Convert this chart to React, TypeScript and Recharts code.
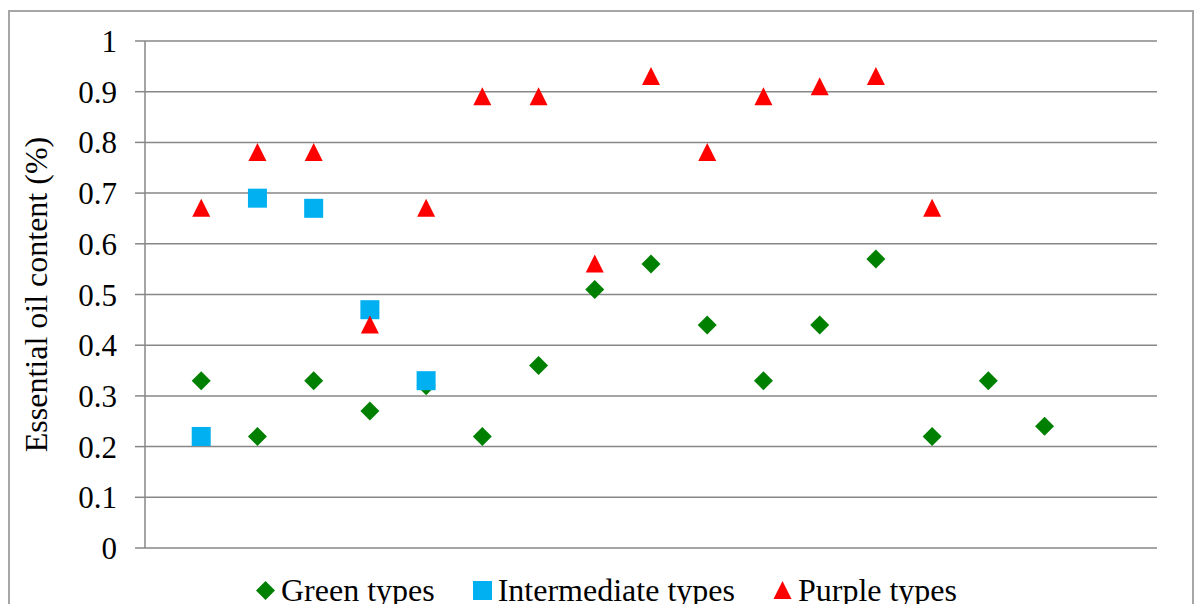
import {
  CartesianGrid,
  Legend,
  Scatter,
  ScatterChart,
  XAxis,
  YAxis,
} from "recharts";

// accession positions along the x axis (axis runs 0..18, last two slots empty)
const positions = [1, 2, 3, 4, 5, 6, 7, 8, 9, 10, 11, 12, 13, 14, 15, 16];

const greenValues = [0.33, 0.22, 0.33, 0.27, 0.32, 0.22, 0.36, 0.51, 0.56, 0.44, 0.33, 0.44, 0.57, 0.22, 0.33, 0.24];
const intermediateValues = [0.22, 0.69, 0.67, 0.47, 0.33];
const purpleValues = [0.67, 0.78, 0.78, 0.44, 0.67, 0.89, 0.89, 0.56, 0.93, 0.78, 0.89, 0.91, 0.93, 0.67];

const yTicks = [0, 0.1, 0.2, 0.3, 0.4, 0.5, 0.6, 0.7, 0.8, 0.9, 1];

const GRID = "#878787";
const FONT = '"Liberation Serif", "Times New Roman", serif';

const toPoints = (values: number[]) =>
  values.map((v, i) => ({ x: positions[i], y: v }));

const Diamond = ({ cx, cy, fill }: any) => (
  <path d={`M${cx},${cy - 9.5}L${cx + 9.5},${cy}L${cx},${cy + 9.5}L${cx - 9.5},${cy}Z`} fill={fill} />
);
const Square = ({ cx, cy, fill }: any) => (
  <rect x={cx - 9.5} y={cy - 9.5} width={19} height={19} fill={fill} />
);
const Triangle = ({ cx, cy, fill }: any) => (
  <path d={`M${cx},${cy - 9.5}L${cx + 9},${cy + 8.5}L${cx - 9},${cy + 8.5}Z`} fill={fill} />
);

const series = [
  { name: "Green types", color: "#008000", shape: Diamond, data: toPoints(greenValues) },
  { name: "Intermediate types", color: "#00B0F0", shape: Square, data: toPoints(intermediateValues) },
  { name: "Purple types", color: "#FF0000", shape: Triangle, data: toPoints(purpleValues) },
];

function LegendContent() {
  return (
    <div
      style={{
        display: "flex",
        justifyContent: "center",
        alignItems: "center",
        gap: 38,
        paddingLeft: 11,
        fontFamily: FONT,
        fontSize: 32,
        lineHeight: "32px",
        color: "#000",
      }}
    >
      {series.map((s) => {
        const Icon = s.shape;
        return (
          <div key={s.name} style={{ display: "flex", alignItems: "center", gap: 6 }}>
            <svg width={19} height={19}>
              <Icon cx={9.5} cy={9.5} fill={s.color} />
            </svg>
            <span>{s.name}</span>
          </div>
        );
      })}
    </div>
  );
}

export default function App() {
  return (
    <div
      style={{
        position: "relative",
        top: 2,
        width: 1182,
        height: 594,
        borderTop: "2px solid #a6a6a6",
        borderLeft: "2px solid #a6a6a6",
        borderRight: "2px solid #a6a6a6",
        background: "#fff",
      }}
    >
      <ScatterChart
        width={1182}
        height={594}
        margin={{ top: 29, right: 35, bottom: 26, left: 0 }}
      >
        <CartesianGrid horizontal vertical={false} stroke={GRID} strokeWidth={1.5} />
        <XAxis type="number" dataKey="x" domain={[0, 18]} hide />
        <YAxis
          type="number"
          dataKey="y"
          domain={[0, 1]}
          ticks={yTicks}
          width={135}
          tickSize={10}
          tickMargin={18}
          axisLine={{ stroke: GRID, strokeWidth: 1.5 }}
          tickLine={{ stroke: GRID, strokeWidth: 1.5 }}
          tick={{ fill: "#000", fontSize: 31, fontFamily: FONT }}
          label={{
            content: ({ viewBox }: any) => {
              const cy = viewBox.y + viewBox.height / 2;
              return (
                <text
                  x={26}
                  y={cy}
                  transform={`rotate(-90 26 ${cy})`}
                  textAnchor="middle"
                  dominantBaseline="central"
                  fontFamily={FONT}
                  fontSize={32}
                  fill="#000"
                >
                  Essential oil content (%)
                </text>
              );
            },
          }}
        />
        <Legend
          verticalAlign="bottom"
          content={() => <LegendContent />}
          wrapperStyle={{ top: 562, bottom: "auto", left: 0, width: 1182 }}
        />
        {series.map((s) => (
          <Scatter
            key={s.name}
            name={s.name}
            data={s.data}
            fill={s.color}
            shape={s.shape}
            isAnimationActive={false}
          />
        ))}
      </ScatterChart>
    </div>
  );
}
